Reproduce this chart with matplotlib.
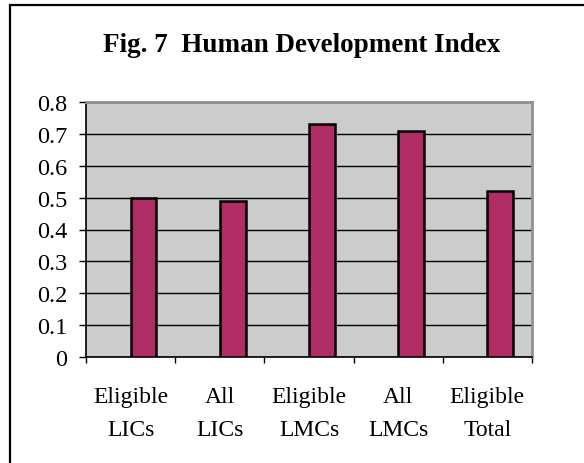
import matplotlib
matplotlib.use("Agg")
import matplotlib.pyplot as plt
from matplotlib.patches import Rectangle

# ------------------------------------------------------------------ #
# data
categories = ['Eligible\nLICs', 'All\nLICs', 'Eligible\nLMCs', 'All\nLMCs', 'Eligible\nTotal']
hdi_values = [0.50, 0.49, 0.73, 0.71, 0.52]
y_ticks = [0, 0.1, 0.2, 0.3, 0.4, 0.5, 0.6, 0.7, 0.8]
y_ticklabels = ['0', '0.1', '0.2', '0.3', '0.4', '0.5', '0.6', '0.7', '0.8']
title = 'Fig. 7  Human Development Index'

# ------------------------------------------------------------------ #
plt.rcParams['font.family'] = ['Liberation Serif', 'DejaVu Serif']

fig = plt.figure(figsize=(5.84, 4.64), dpi=100)
ax = fig.add_axes([86 / 584, 1 - 358 / 464, (532 - 86) / 584, (358 - 103) / 464])

# outer chart frame (open on the right and bottom, as in the source crop)
fig.patches.append(Rectangle((10 / 584, -0.1), 1.2, 1.1 - 5.5 / 464,
                             transform=fig.transFigure, fill=False,
                             edgecolor='black', linewidth=1.6))

pos = list(range(len(categories)))
ax.set_facecolor('#cccccc')
ax.bar(pos, hdi_values, width=0.29, align='edge', color='#b02c64',
       edgecolor='black', linewidth=1.8, zorder=3)

ax.set_xlim(-0.5, len(categories) - 0.5)
ax.set_ylim(0, 0.8)
ax.set_yticks(y_ticks)
ax.set_yticklabels(y_ticklabels, fontsize=17.5)
ax.yaxis.grid(True, color='black', linewidth=1.0, zorder=1)

# tick marks on category boundaries, labels at category centres
ax.set_xticks([p - 0.5 for p in pos] + [pos[-1] + 0.5])
ax.set_xticklabels([])
ax.set_xticks(pos, minor=True)
ax.set_xticklabels(categories, minor=True, fontsize=17, linespacing=1.75)
ax.tick_params(axis='x', which='minor', length=0, pad=21)
ax.tick_params(axis='x', which='major', length=4.5, width=1, direction='out')
ax.tick_params(axis='y', length=5, width=1, direction='out', pad=8.5)

for s in ['left', 'bottom']:
    ax.spines[s].set_color('black')
    ax.spines[s].set_linewidth(1.2)
for s in ['top', 'right']:
    ax.spines[s].set_color('#909090')
    ax.spines[s].set_linewidth(2)

fig.text(302 / 584, 1 - 45 / 464, title, ha='center', va='center',
         fontsize=19.5, fontweight='bold')

plt.savefig('out.png', dpi=100)
plt.close()
